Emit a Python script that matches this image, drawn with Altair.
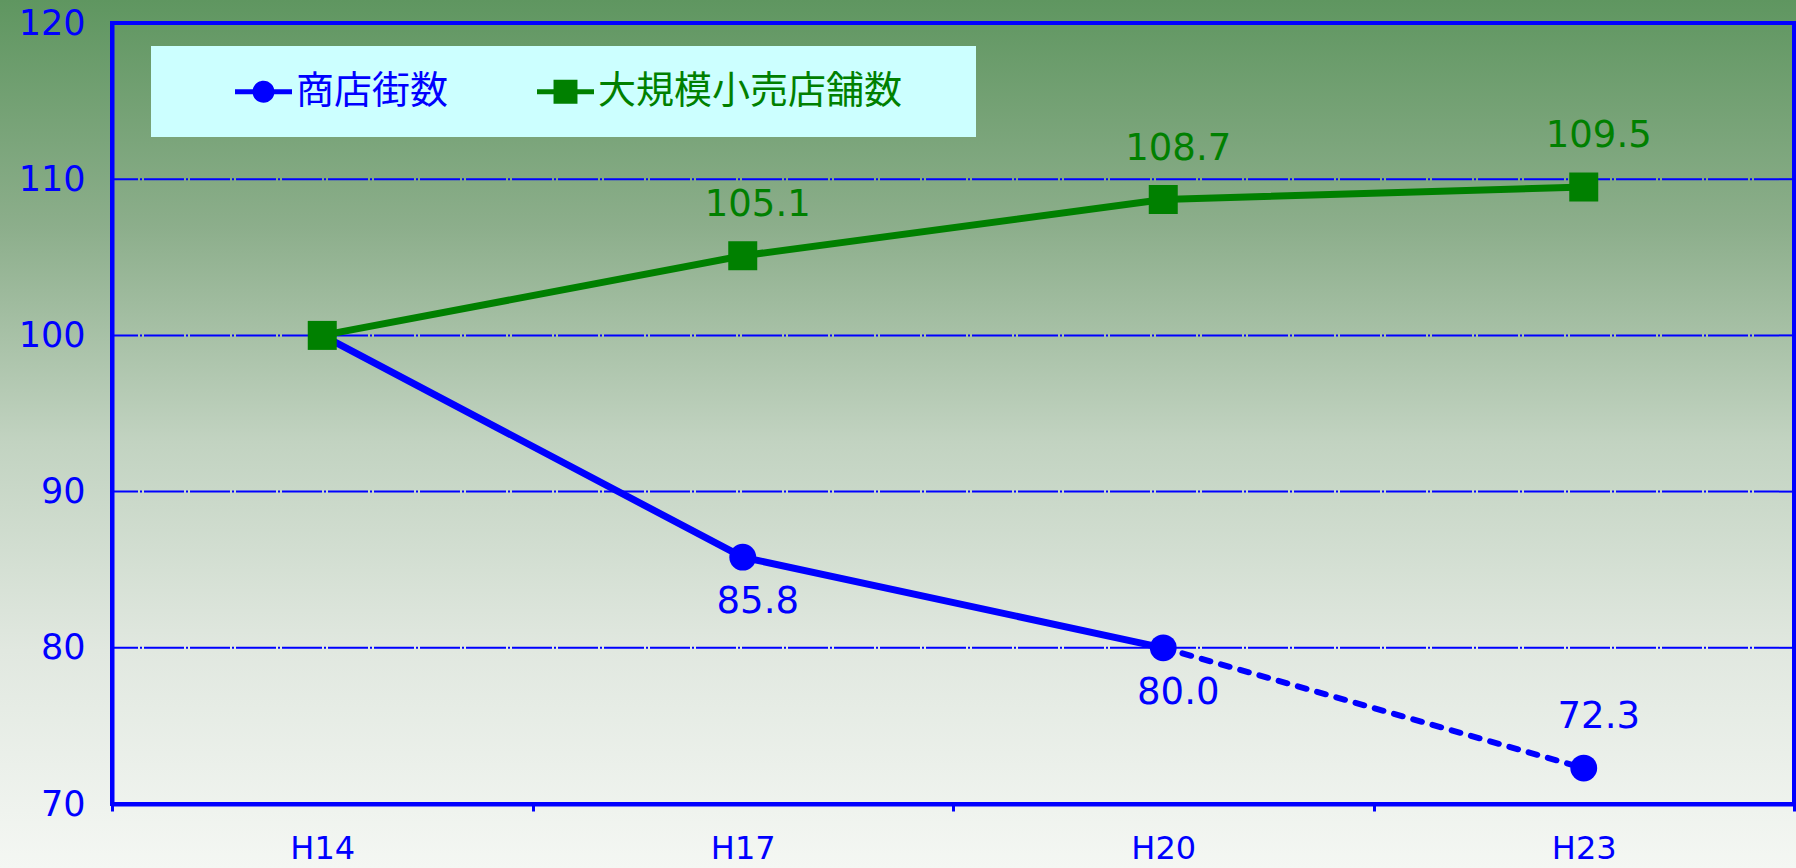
import altair as alt
import pandas as pd

# ---- data ----
years = ["H14", "H17", "H20", "H23"]
series_names = ["商店街数", "大規模小売店舗数"]
shoutengai = [100.0, 85.8, 80.0, 72.3]
ogata = [100.0, 105.1, 108.7, 109.5]
y_ticks = [70, 80, 90, 100, 110, 120]
grid_values = [80, 90, 100, 110]

BLUE = "#0000FF"
GREEN = "#008000"

df = pd.DataFrame({
    "year": years * 2,
    "series": [series_names[0]] * len(years) + [series_names[1]] * len(years),
    "value": shoutengai + ogata,
})
grid_df = pd.DataFrame({"value": grid_values})
one = pd.DataFrame({"k": [0]})

W, H = 1682, 781
PAD = {"left": 112, "top": 23, "right": 2, "bottom": 64}

cscale = alt.Scale(domain=series_names, range=[BLUE, GREEN])
y_scale = alt.Scale(domain=[70, 120], nice=False, zero=False)

x_enc = alt.X(
    "year:N", sort=years,
    scale=alt.Scale(type="band", domain=years, paddingInner=0, paddingOuter=0),
    axis=alt.Axis(title=None, labelAngle=0, labelFont="DejaVu Sans", labelFontSize=32,
                  labelColor=BLUE, labelPadding=22, domainColor=BLUE, domainWidth=4,
                  tickColor=BLUE, tickWidth=3, tickSize=7, tickBand="extent",
                  grid=False, zindex=1),
)
y_enc = alt.Y(
    "value:Q", scale=y_scale,
    axis=alt.Axis(title=None, values=y_ticks, labelFont="DejaVu Sans", labelFontSize=35,
                  labelColor=BLUE, labelPadding=27, ticks=False, domainColor=BLUE,
                  domainWidth=4, grid=False, zindex=1),
)
c_enc = alt.Color("series:N", scale=cscale, legend=None)

# background gradient over the whole picture
bg = alt.Chart(one).mark_rect(
    clip=False,
    fill=alt.LinearGradient(
        gradient="linear", x1=0, x2=0, y1=0, y2=1,
        stops=[
            alt.GradientStop(offset=0.0, color="#5f9660"),
            alt.GradientStop(offset=0.26, color="#8cae8b"),
            alt.GradientStop(offset=0.51, color="#c2d3c1"),
            alt.GradientStop(offset=0.75, color="#e1e8e0"),
            alt.GradientStop(offset=1.0, color="#f4f7f3"),
        ],
    ),
).encode(x=alt.value(-112), x2=alt.value(1684), y=alt.value(-23), y2=alt.value(845))

legend_box = alt.Chart(one).mark_rect(fill="#CCFFFF").encode(
    x=alt.value(39), x2=alt.value(864), y=alt.value(23), y2=alt.value(114)
)

grid = alt.Chart(grid_df).mark_rule(color=BLUE, strokeWidth=2, strokeDash=[40, 2, 2, 2]).encode(
    y=y_enc
)

frame = alt.Chart(one).mark_rect(fillOpacity=0, stroke=BLUE, strokeWidth=4).encode(
    x=alt.value(0), x2=alt.value("width"), y=alt.value(0), y2=alt.value("height")
)

base = alt.Chart(df)

line_solid = base.mark_line(strokeWidth=7, strokeJoin="round").encode(
    x=x_enc, y=y_enc, color=c_enc
).transform_filter(f"!(datum.series == '{series_names[0]}' && datum.year == '{years[-1]}')")

line_dash = base.mark_line(strokeWidth=6, strokeDash=[9, 11], strokeCap="round").encode(
    x=x_enc, y=y_enc, color=c_enc
).transform_filter(
    f"datum.series == '{series_names[0]}' && (datum.year == '{years[-2]}' || datum.year == '{years[-1]}')"
)

circles = base.mark_point(shape="circle", filled=True, size=720, opacity=1).encode(
    x=x_enc, y=y_enc, color=c_enc
).transform_filter(f"datum.series == '{series_names[0]}'")

squares = base.mark_point(shape="square", filled=True, size=841, opacity=1).encode(
    x=x_enc, y=y_enc, color=c_enc
).transform_filter(f"datum.series == '{series_names[1]}'")

def labels(dy, cond):
    return base.mark_text(
        font="DejaVu Sans", fontSize=37, align="center", baseline="alphabetic", dx=15, dy=dy
    ).encode(
        x=x_enc, y=y_enc, color=c_enc, text=alt.Text("value:Q", format=".1f")
    ).transform_filter(cond)

green_labels = labels(-40, f"datum.series == '{series_names[1]}' && datum.year != '{years[0]}'")
blue_below = labels(56, f"datum.series == '{series_names[0]}' && (datum.year == '{years[1]}' || datum.year == '{years[2]}')")
blue_above = labels(-40, f"datum.series == '{series_names[0]}' && datum.year == '{years[3]}'")

circle_path = ("M-1,-0.088L1,-0.088L1,0.088L-1,0.088Z "
               "M0.386,0A0.386,0.386,0,1,1,-0.386,0A0.386,0.386,0,1,1,0.386,0Z")
square_path = ("M-1,-0.088L1,-0.088L1,0.088L-1,0.088Z "
               "M-0.42,-0.42L0.42,-0.42L0.42,0.42L-0.42,0.42Z")

leg = alt.Legend(
    title=None, orient="none", legendX=123, legendY=40, direction="horizontal", columns=2,
    columnPadding=88, padding=0, symbolSize=3249, symbolStrokeWidth=0,
    labelFont="Noto Sans CJK JP", labelFontSize=38, labelOffset=4, labelLimit=0,
    labelColor={"expr": f"datum.value === '{series_names[0]}' ? '{BLUE}' : '{GREEN}'"},
)

legend_layer = base.mark_point(filled=True, opacity=1).encode(
    color=alt.Color("series:N", scale=cscale, legend=leg),
    shape=alt.Shape("series:N", scale=alt.Scale(domain=series_names, range=[circle_path, square_path]),
                    legend=leg),
).transform_filter("false")

chart = alt.layer(
    bg, legend_box, grid, frame, line_solid, line_dash, circles, squares,
    green_labels, blue_below, blue_above, legend_layer
).resolve_scale(
    color="independent", shape="independent"
).properties(
    width=W, height=H, padding=PAD, autosize=alt.AutoSizeParams(type="none"),
    background="#f4f7f3",
).configure_view(strokeWidth=0)

chart.save("out.html", embed_options={"renderer": "svg", "actions": False})
